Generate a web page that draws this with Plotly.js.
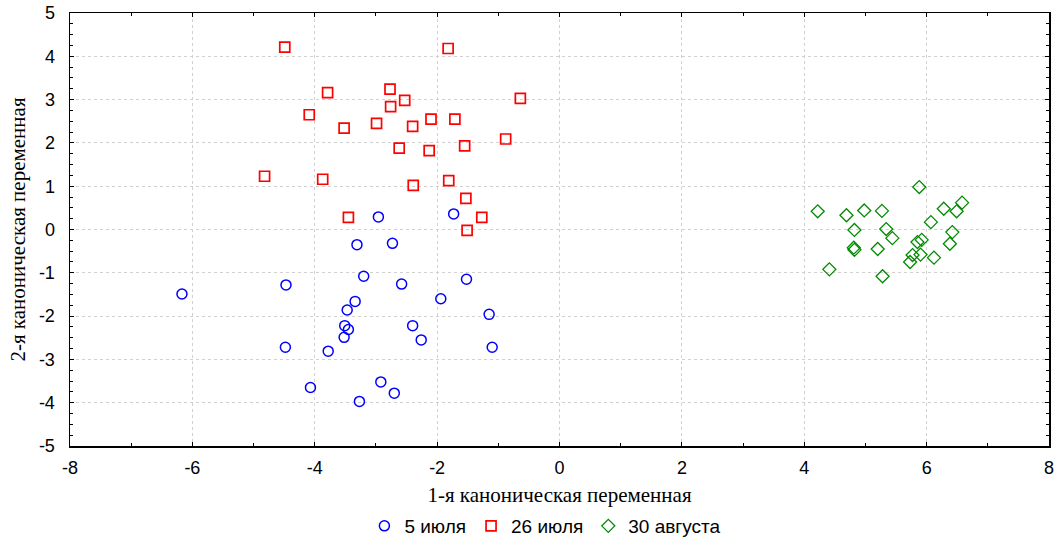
<!DOCTYPE html>
<html>
<head>
<meta charset="utf-8">
<script src="https://cdn.plot.ly/plotly-3.0.1.min.js"></script>
<style>html,body{margin:0;padding:0;background:#fff}#chart{width:1059px;height:545px}</style>
</head>
<body>
<div id="chart"></div>
<script>
const julyX = [-2.96,-1.73,-3.31,-2.73,-3.20,-2.58,-1.52,-6.17,-4.47,-3.34,-3.47,-1.94,-1.15,-3.51,-3.45,-2.40,-3.52,-2.26,-4.48,-3.78,-1.10,-4.07,-2.92,-2.70,-3.27];
const julyY = [0.29,0.36,-0.35,-0.32,-1.08,-1.26,-1.15,-1.49,-1.28,-1.66,-1.86,-1.60,-1.96,-2.22,-2.31,-2.22,-2.49,-2.55,-2.72,-2.81,-2.72,-3.65,-3.52,-3.78,-3.97];
const july26X = [-4.49,-1.82,-3.79,-2.77,-2.53,-2.76,-0.64,-4.09,-3.52,-2.99,-2.40,-2.10,-1.71,-0.88,-2.62,-2.13,-1.55,-4.82,-3.87,-2.39,-1.81,-1.53,-3.45,-1.27,-1.51];
const july26Y = [4.21,4.18,3.16,3.24,2.98,2.84,3.03,2.65,2.34,2.45,2.38,2.55,2.55,2.09,1.88,1.82,1.93,1.23,1.16,1.02,1.13,0.72,0.28,0.28,-0.02];
const augX = [5.88,4.22,4.69,4.98,5.27,6.28,6.58,6.49,6.07,4.82,5.34,5.44,6.42,5.85,5.92,6.38,4.81,4.82,5.20,5.90,5.77,5.73,6.12,4.41,5.28];
const augY = [0.98,0.42,0.33,0.44,0.43,0.48,0.62,0.42,0.17,-0.01,0.01,-0.20,-0.06,-0.29,-0.24,-0.33,-0.42,-0.47,-0.45,-0.58,-0.59,-0.75,-0.65,-0.92,-1.08];
const seriesNames = ['5 июля','26 июля','30 августа'];
const xTickVals = [-8,-6,-4,-2,0,2,4,6,8];
const xTickText = ['-8','-6','-4','-2','0','2','4','6','8'];
const yTickVals = [-5,-4,-3,-2,-1,0,1,2,3,4,5];
const yTickText = ['-5','-4','-3','-2','-1','0','1','2','3','4','5'];
const xTitle = '1-я каноническая переменная';
const yTitle = '2-я каноническая переменная';

const traces = [
  {x: julyX, y: julyY, name: seriesNames[0], type: 'scatter', mode: 'markers',
   marker: {symbol: 'circle-open', size: 10, color: '#0000ff', line: {width: 1.5, color: '#0000ff'}}},
  {x: july26X, y: july26Y, name: seriesNames[1], type: 'scatter', mode: 'markers',
   marker: {symbol: 'square-open', size: 10, color: '#ff0000', line: {width: 1.7, color: '#ff0000'}}},
  {x: augX, y: augY, name: seriesNames[2], type: 'scatter', mode: 'markers',
   marker: {symbol: 'diamond-open', size: 10, color: '#008a00', line: {width: 1.3, color: '#008a00'}}}
];

const axisCommon = {
  automargin: false,
  showline: true, linecolor: '#000', linewidth: 1.5, mirror: 'ticks',
  ticks: 'inside', ticklen: 4, tickwidth: 1, tickcolor: '#000',
  showgrid: true, gridcolor: '#d0d0d0', griddash: 'dot', gridwidth: 1,
  zeroline: false, tickmode: 'array',
  tickfont: {family: 'Liberation Sans, Arial, sans-serif', size: 18, color: '#000'}
};

const layout = {
  width: 1059, height: 545,
  margin: {l: 70, r: 10, t: 13, b: 99},
  paper_bgcolor: '#fff', plot_bgcolor: '#fff',
  showlegend: true,
  legend: {orientation: 'h', x: 0.515, xref: 'container', xanchor: 'center', y: 0.0, yref: 'container', yanchor: 'bottom',
           font: {family: 'Liberation Sans, Arial, sans-serif', size: 19, color: '#000'},
           itemwidth: 30},
  xaxis: Object.assign({}, axisCommon, {
    range: [-8, 8], tickvals: xTickVals, ticktext: xTickText, ticklabelstandoff: 5,
    minor: {dtick: 1, tick0: -8, ticks: 'inside', ticklen: 3, tickcolor: '#000', showgrid: false},
    title: {text: xTitle, standoff: 22, font: {family: 'Liberation Serif, Times New Roman, serif', size: 21, color: '#000'}}
  }),
  yaxis: Object.assign({}, axisCommon, {
    range: [-5, 5], tickvals: yTickVals, ticktext: yTickText, ticklabelstandoff: 10,
    minor: {dtick: 0.25, tick0: -5, ticks: 'inside', ticklen: 3, tickcolor: '#000', showgrid: false},
    title: {text: yTitle, standoff: 7, font: {family: 'Liberation Serif, Times New Roman, serif', size: 21, color: '#000'}}
  })
};

Plotly.newPlot('chart', traces, layout, {displayModeBar: false, staticPlot: true});
</script>
</body>
</html>
